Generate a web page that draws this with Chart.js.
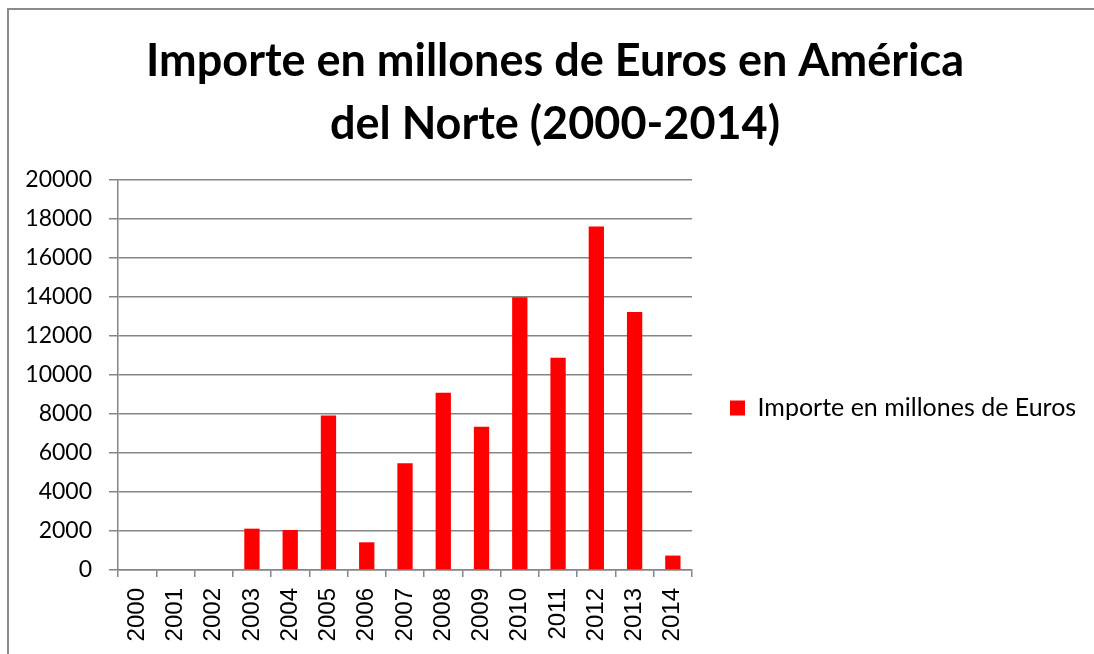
<!DOCTYPE html>
<html>
<head>
<meta charset="utf-8">
<script src="https://cdn.jsdelivr.net/npm/chart.js@4/dist/chart.umd.min.js"></script>
<style>
  html, body { margin: 0; padding: 0; background: #fff; }
  #wrap { width: 1094px; height: 654px; position: relative; }
</style>
</head>
<body>
<div id="wrap"><canvas id="grafico" width="1094" height="654"></canvas></div>
<script>
// años y millones de euros importados
const anios = ['2000', '2001', '2002', '2003', '2004', '2005', '2006', '2007',
  '2008', '2009', '2010', '2011', '2012', '2013', '2014'];
const importes = [0, 0, 0, 2120, 2050, 7920, 1420, 5470, 9090, 7350, 13990, 10890, 17610, 13230, 740];
const serie = 'Importe en millones de Euros';
const titulo = ['Importe en millones de Euros en América', 'del Norte (2000-2014)'];

const gris = '#858585';
const fuenteLeyenda = { family: 'Lato', size: 25 };
const sepLeyenda = 38;

// ancho del texto de la leyenda, para dejar el área de barras en x = 692
const medidor = document.createElement('canvas').getContext('2d');
medidor.font = fuenteLeyenda.size + 'px ' + fuenteLeyenda.family;
const anchoTexto = medidor.measureText(serie).width;
const anchoLeyenda = sepLeyenda + 15 + fuenteLeyenda.size / 2 + anchoTexto + 10;
const margenDer = Math.max(0, 1094 - 692 - anchoLeyenda);
// margen izquierdo para que el título quede centrado en x = 555
const margenIzq = Math.min(100, Math.max(0, margenDer + 16));

// marco gris del gráfico (arriba e izquierda)
const marco = {
  id: 'marco',
  afterDraw(chart) {
    const ctx = chart.ctx;
    ctx.save();
    ctx.strokeStyle = '#8a8a8a';
    ctx.lineWidth = 2;
    ctx.beginPath();
    ctx.moveTo(8, 654);
    ctx.lineTo(8, 9);
    ctx.lineTo(1094, 9);
    ctx.stroke();
    ctx.restore();
  }
};

// la leyenda ocupa todo el alto; se baja un poco para centrarla junto a las barras
const bajarLeyenda = {
  id: 'bajarLeyenda',
  afterLayout(chart) {
    chart.legend.top += 162;
  }
};

new Chart(document.getElementById('grafico'), {
  type: 'bar',
  data: {
    labels: anios,
    datasets: [{
      label: serie,
      data: importes,
      backgroundColor: '#ff0000',
      barPercentage: 0.4,
      categoryPercentage: 1
    }]
  },
  options: {
    responsive: false,
    animation: false,
    layout: { padding: { left: margenIzq, right: margenDer, top: 0, bottom: 0 } },
    plugins: {
      title: {
        display: true,
        text: titulo,
        color: '#000',
        font: { family: 'Lato', size: 45, weight: 'bold', lineHeight: 1.4 },
        padding: { top: 30, bottom: 24 }
      },
      legend: {
        position: 'right',
        maxWidth: 500,
        labels: {
          boxWidth: 15,
          boxHeight: 15,
          padding: sepLeyenda,
          color: '#000',
          font: fuenteLeyenda
        }
      },
      tooltip: { enabled: false }
    },
    scales: {
      x: {
        grid: { display: true, drawOnChartArea: false, drawTicks: true, tickLength: 7, color: gris, lineWidth: 1.5, offset: true },
        border: { display: true, color: gris, width: 1.5 },
        ticks: {
          color: '#000',
          font: { family: 'Liberation Sans', size: 24 },
          minRotation: 90,
          maxRotation: 90,
          padding: 11,
          autoSkip: false
        },
        afterFit(scale) { scale.height = 84; }
      },
      y: {
        min: 0,
        max: 20000,
        grid: { color: gris, lineWidth: 1.5, tickLength: 9 },
        border: { display: true, color: gris, width: 1.5 },
        ticks: {
          stepSize: 2000,
          color: '#000',
          font: { family: 'Lato', size: 23 },
          padding: 17,
          callback: v => String(v)
        },
        afterFit(scale) { scale.width = 118 - margenIzq; }
      }
    }
  },
  plugins: [marco, bajarLeyenda]
});
</script>
</body>
</html>
